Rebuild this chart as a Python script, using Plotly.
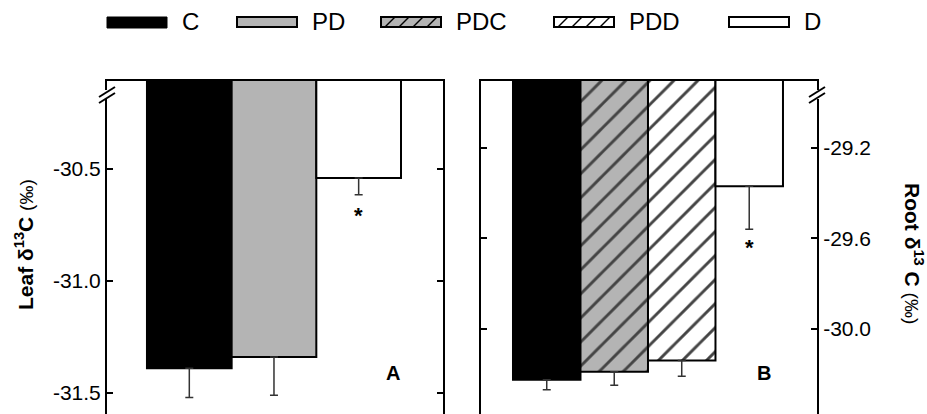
import plotly.graph_objects as go

# ---------------- data ----------------
leaf_groups = ["C", "PD", "D"]
leaf_means = [-31.39, -31.34, -30.54]
leaf_se = [0.13, 0.17, 0.075]

root_groups = ["C", "PDC", "PDD", "D"]
root_means = [-30.225, -30.19, -30.14, -29.37]
root_se = [0.045, 0.06, 0.07, 0.19]

legend_labels = ["C", "PD", "PDC", "PDD", "D"]

leaf_ticks = [-30.5, -31.0, -31.5]
leaf_ticktext = ["-30.5", "-31.0", "-31.5"]
root_ticks = [-29.2, -29.6, -30.0]
root_ticktext = ["-29.2", "-29.6", "-30.0"]

# ---------------- styles ----------------
W, H = 927, 414
FONT = "Liberation Sans, Arial, sans-serif"
GRAY = "#b4b4b4"
fill = {"C": "black", "PD": GRAY, "PDC": GRAY, "PDD": "white", "D": "white"}
hatch = {"C": "", "PD": "", "PDC": "/", "PDD": "/", "D": ""}


def px(x):
    return x / W


def py(y):
    return 1 - y / H


fig = go.Figure()

fig.add_trace(go.Bar(
    x=leaf_groups, y=leaf_means, width=1, xaxis="x", yaxis="y",
    marker=dict(color=[fill[g] for g in leaf_groups],
                line=dict(color="black", width=2)),
    error_y=dict(type="data", symmetric=False, array=[0] * len(leaf_se),
                 arrayminus=leaf_se, color="#333333", thickness=1.5, width=4),
    showlegend=False, hoverinfo="skip",
))

fig.add_trace(go.Bar(
    x=root_groups, y=root_means, width=1, xaxis="x2", yaxis="y2",
    marker=dict(color=[fill[g] for g in root_groups],
                line=dict(color="black", width=2),
                pattern=dict(shape=[hatch[g] for g in root_groups],
                             fgcolor="black", fgopacity=1,
                             bgcolor=[fill[g] for g in root_groups],
                             size=17, solidity=0.17)),
    error_y=dict(type="data", symmetric=False, array=[0] * len(root_se),
                 arrayminus=root_se, color="#333333", thickness=1.5, width=4),
    showlegend=False, hoverinfo="skip",
))

ydom = [0, py(81)]
common_y = dict(showgrid=False, zeroline=False, showline=True, linecolor="black",
                linewidth=2, ticks="inside", ticklen=6, tickwidth=2, tickcolor="black",
                mirror="ticks", automargin=False,
                tickfont=dict(family=FONT, size=21, color="black"))
common_x = dict(showgrid=False, zeroline=False, showline=True, linecolor="black",
                linewidth=2, ticks="", showticklabels=False, side="top",
                mirror=False, automargin=False)

fig.update_layout(
    width=W, height=H,
    margin=dict(l=0, r=0, t=0, b=0),
    paper_bgcolor="white", plot_bgcolor="white",
    bargap=0,
    xaxis=dict(domain=[px(107), px(443)], range=[-0.972, 2.996], anchor="y", **common_x),
    yaxis=dict(domain=ydom, range=[-31.594, -30.107], anchor="x", side="left",
               tickvals=leaf_ticks, ticktext=leaf_ticktext, **common_y),
    xaxis2=dict(domain=[px(481), px(817)], range=[-0.974, 4.004], anchor="y2", **common_x),
    yaxis2=dict(domain=ydom, range=[-30.377, -28.904], anchor="x2", side="right",
                tickvals=root_ticks, ticktext=root_ticktext, **common_y),
)

annotations = []
shapes = []

# significance asterisks under D bars
annotations.append(dict(x="D", y=leaf_means[2] - leaf_se[2], xref="x", yref="y",
                        text="<b>*</b>", showarrow=False, yanchor="top", yshift=-6,
                        font=dict(family=FONT, size=22, color="black")))
annotations.append(dict(x="D", y=root_means[3] - root_se[3], xref="x2", yref="y2",
                        text="<b>*</b>", showarrow=False, yanchor="top", yshift=-4,
                        font=dict(family=FONT, size=22, color="black")))

# panel letters
annotations.append(dict(x=px(393), y=py(386), xref="paper", yref="paper", text="<b>A</b>",
                        showarrow=False, font=dict(family=FONT, size=20, color="black")))
annotations.append(dict(x=px(773), y=py(386), xref="paper", yref="paper", text="<b>B</b>",
                        showarrow=False, font=dict(family=FONT, size=20, color="black")))

# axis titles
annotations.append(dict(x=px(9), y=py(245), xref="paper", yref="paper", textangle=-90,
                        text="<b>Leaf δ<sup>13</sup>C</b> <span style='font-size:19px'>(‰)</span>",
                        showarrow=False, font=dict(family=FONT, size=21, color="black")))
annotations.append(dict(x=px(929), y=py(253), xref="paper", yref="paper", textangle=90,
                        text="<b>Root δ<sup>13</sup> C</b> <span style='font-size:19px'>(‰)</span>",
                        showarrow=False, font=dict(family=FONT, size=21, color="black")))

# axis break marks
for cx in (107, 817):
    shapes.append(dict(type="rect", xref="paper", yref="paper",
                       x0=px(cx - 3), x1=px(cx + 3), y0=py(99), y1=py(90),
                       fillcolor="white", line=dict(width=0)))
    for dy in (0, 6):
        shapes.append(dict(type="line", xref="paper", yref="paper",
                           x0=px(cx - 8), y0=py(97 + dy), x1=px(cx + 8), y1=py(87 + dy),
                           line=dict(color="black", width=2)))

# legend (drawn)
leg_patch_x = [107, 237, 381, 554, 729]
leg_y0, leg_y1 = 17, 27
for lab, x0 in zip(legend_labels, leg_patch_x):
    x1 = x0 + 60
    if lab == "C":
        shapes.append(dict(type="rect", xref="paper", yref="paper",
                           x0=px(x0), x1=px(x1), y0=py(leg_y1 + 1), y1=py(leg_y0),
                           fillcolor="black", line=dict(color="black", width=1)))
    else:
        shapes.append(dict(type="rect", xref="paper", yref="paper",
                           x0=px(x0), x1=px(x1), y0=py(leg_y1), y1=py(leg_y0),
                           fillcolor=fill[lab], line=dict(color="black", width=2)))
        if hatch[lab]:
            h = leg_y1 - leg_y0
            c = x0 - h
            while c < x1:
                sx, sy = c, leg_y1
                ex, ey = c + h, leg_y0
                if sx < x0:
                    sy = leg_y1 - (x0 - sx)
                    sx = x0
                if ex > x1:
                    ey = leg_y0 + (ex - x1)
                    ex = x1
                if ex > sx:
                    shapes.append(dict(type="line", xref="paper", yref="paper",
                                       x0=px(sx), y0=py(sy), x1=px(ex), y1=py(ey),
                                       line=dict(color="black", width=1.5)))
                c += 14
    annotations.append(dict(x=px(x1 + 13), y=py(21), xref="paper", yref="paper",
                            text=lab, showarrow=False, xanchor="left", yanchor="middle",
                            font=dict(family=FONT, size=24, color="black")))

fig.update_layout(annotations=annotations, shapes=shapes)

fig.write_html("out.html", config={"displayModeBar": False, "staticPlot": True},
               post_script="document.body.style.margin='0px';document.body.style.overflow='hidden';")
